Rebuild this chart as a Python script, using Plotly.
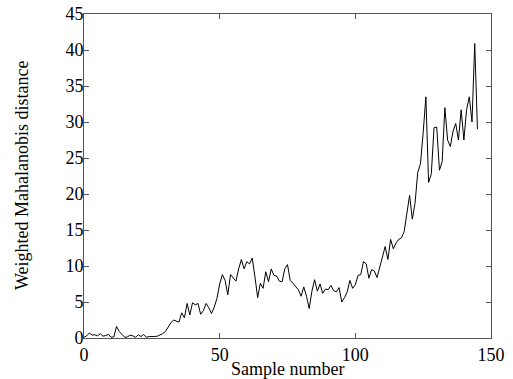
import plotly.graph_objects as go

sample_number = list(range(0, 146))
distance = [
    0.1, 0.3, 0.7, 0.4, 0.45, 0.3, 0.6, 0.25, 0.35, 0.5,
    0.1, 0.15, 1.6, 0.9, 0.5, 0.1, 0.15, 0.4, 0.3, 0.1,
    0.45, 0.2, 0.5, 0.1, 0.2, 0.15, 0.2, 0.25, 0.4, 0.6,
    0.9, 1.5, 2.1, 2.5, 2.3, 2.2, 3.5, 2.8, 4.8, 3.2,
    4.9, 4.6, 4.8, 3.3, 3.8, 4.8, 4.2, 3.4, 4.3, 5.5,
    7.5, 8.8, 8.0, 6.0, 8.8, 8.4, 7.9, 9.6, 10.9, 9.6,
    10.6, 10.3, 11.1, 8.5, 5.6, 7.6, 6.9, 9.2, 7.8, 9.6,
    8.7, 8.6, 7.9, 7.8, 9.6, 10.2, 8.0, 7.6, 7.2, 6.7,
    5.8, 7.1, 5.8, 4.1, 6.5, 8.1, 6.5, 7.5, 6.2, 6.8,
    6.7, 7.3, 6.6, 6.4, 7.0, 5.0, 5.6, 6.4, 8.0, 6.9,
    7.4, 8.7, 8.8, 10.6, 10.3, 8.3, 9.5, 9.3, 8.4, 9.8,
    11.5, 12.7, 10.9, 13.7, 12.4, 13.2, 13.7, 13.9, 14.8, 17.3,
    19.8, 16.5, 18.7, 23.0, 24.2, 28.5, 33.5, 21.6, 22.8, 29.2,
    29.3, 23.3, 24.5, 32.0, 27.5, 26.6, 28.7, 29.8, 27.5, 31.7,
    27.5, 31.7, 33.5, 30.0, 40.9, 29.0,
]
x_ticks = [0, 50, 100, 150]
y_ticks = [0, 5, 10, 15, 20, 25, 30, 35, 40, 45]
x_title = "Sample number"
y_title = "Weighted Mahalanobis distance"

font = dict(family="Liberation Serif, Times New Roman, serif", size=18, color="black")

fig = go.Figure(go.Scatter(
    x=sample_number, y=distance, mode="lines",
    line=dict(color="black", width=1), showlegend=False,
))

axis_common = dict(
    showgrid=False, zeroline=False, showline=True, linecolor="#555555", linewidth=1,
    mirror="ticks", ticks="inside", ticklen=5, tickcolor="#555555", tickwidth=1,
    tickfont=font, automargin=False,
)
fig.update_xaxes(range=[0, 150], tickvals=x_ticks, ticktext=[str(v) for v in x_ticks],
                 ticklabelstandoff=0, **axis_common)
fig.update_yaxes(range=[0, 45], tickvals=y_ticks, ticktext=[str(v) for v in y_ticks],
                 ticklabelstandoff=-4, **axis_common)

fig.add_annotation(text=x_title, xref="paper", yref="paper", x=0.5, y=0,
                   xanchor="center", yanchor="middle", yshift=-31,
                   showarrow=False, font=font)
fig.add_annotation(text=y_title, xref="paper", yref="paper", x=0, y=0.5,
                   xanchor="center", yanchor="middle", xshift=-62, textangle=-90,
                   showarrow=False, font=font)

fig.update_layout(
    width=513, height=379,
    margin=dict(l=84, r=22, t=14, b=41),
    plot_bgcolor="white", paper_bgcolor="white",
    font=font,
)
fig.write_html("out.html")
